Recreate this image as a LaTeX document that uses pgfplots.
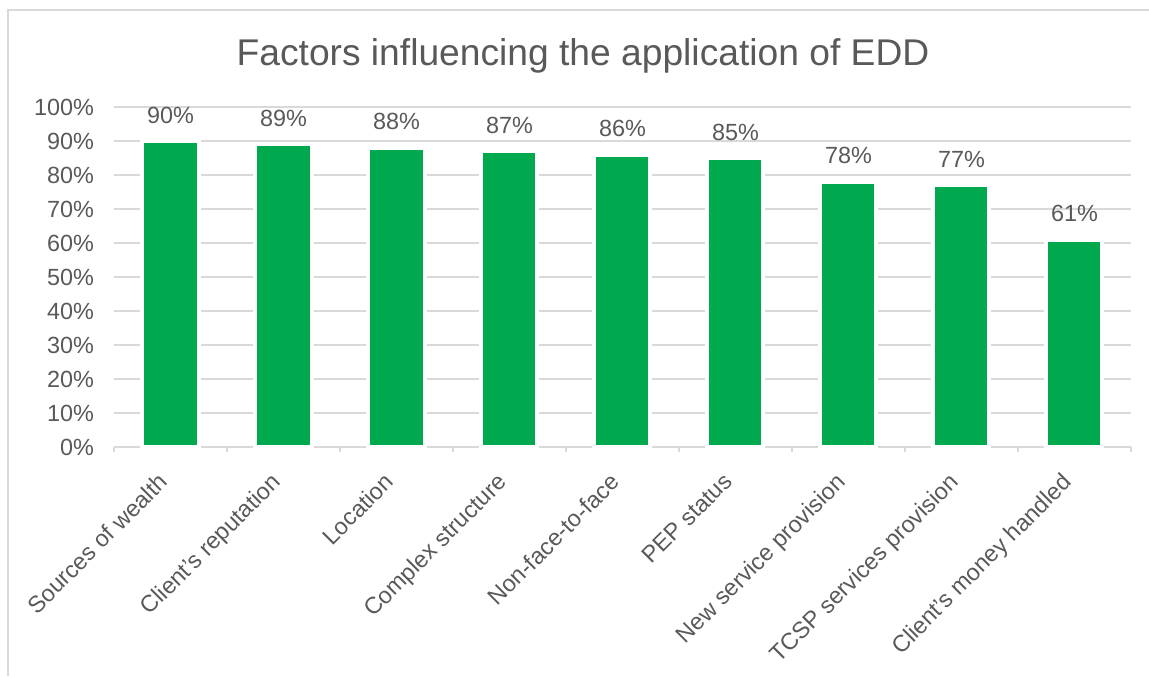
\documentclass[border=0pt]{standalone}
\usepackage{pgfplots}
\pgfplotsset{compat=1.18}
\usepackage{fontspec}
\setmainfont{Liberation Sans}
\definecolor{txt}{HTML}{595959}
\definecolor{gridc}{HTML}{D9D9D9}
\definecolor{barc}{HTML}{00A94E}
\begin{document}
\begin{tikzpicture}[x=1pt,y=1pt]
\path[use as bounding box] (0,0) rectangle (574.5,338);
\draw[gridc, line width=0.75pt] (4,0) -- (4,333) -- (574.5,333);
\node[anchor=base, font=\fontsize{18.6}{22}\selectfont, text=txt, inner sep=0pt] at (291.5,305) {Factors influencing the application of EDD};
\begin{axis}[
  at={(57pt,114.5pt)}, anchor=south west,
  scale only axis, width=508.5pt, height=170pt,
  /pgf/number format/assume math mode=true,
  ymin=0, ymax=100, ytick={0,10,...,100},
  yticklabel={\pgfmathprintnumber{\tick}\%},
  xmin=-0.5, xmax=8.5, xtick={0,...,8},
  xticklabels={Sources of wealth, Client’s reputation, Location, Complex structure, Non-face-to-face, PEP status, New service provision, TCSP services provision, Client's money handled},
  minor xtick={-0.5,0.5,...,8.5},
  axis lines*=left,
  y axis line style={draw=none},
  x axis line style={gridc, line width=0.75pt, -},
  ytick style={draw=none},
  major tick length=0pt, minor tick length=2.5pt,
  tick align=outside,
  minor tick style={gridc, line width=0.75pt},
  ymajorgrids, grid style={gridc, line width=0.75pt},
  tick label style={font=\fontsize{11.7}{14}\selectfont, text=txt},
  yticklabel style={xshift=-6.5pt},
  xticklabel style={rotate=45, anchor=north east, xshift=-10pt, yshift=-0.4pt},
  enlargelimits=false, clip=false,
  ybar, bar width=28pt,
  nodes near coords={\pgfmathprintnumber{\pgfplotspointmeta}\%},
  point meta=y,
  nodes near coords style={font=\fontsize{11.7}{14}\selectfont, text=txt, yshift=4.5pt},
]
\addplot[fill=barc, draw=white, line width=2pt] coordinates {
(0,90) (1,89) (2,88) (3,87) (4,86) (5,85) (6,78) (7,77) (8,61)};
\end{axis}
\end{tikzpicture}
\end{document}
